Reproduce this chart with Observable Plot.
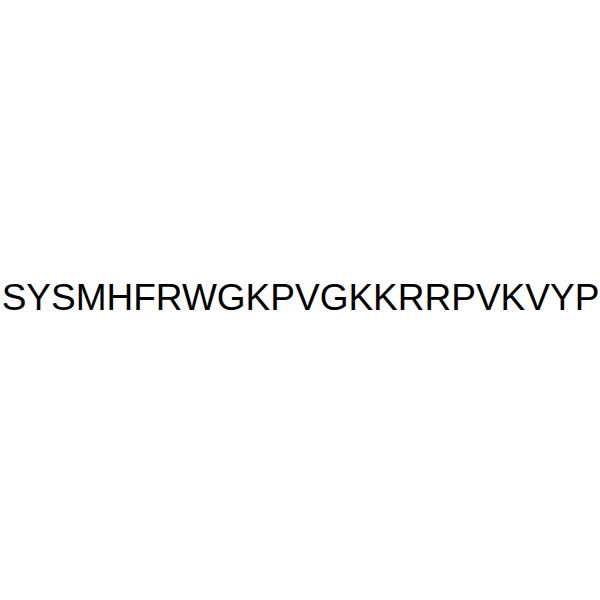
<!DOCTYPE html>
<html>
<head>
<meta charset="utf-8">
<script src="https://cdn.jsdelivr.net/npm/d3@7"></script>
<script src="https://cdn.jsdelivr.net/npm/@observablehq/plot@0.6"></script>
<style>
html, body { margin: 0; padding: 0; background: #fff; }
</style>
</head>
<body>
<div id="chart"></div>
<script>
const labels = ["SYSMHFRWGKPVGKKRRPVKVYP"];
const labelX = [300];
const labelY = [298];

const data = labels.map((t, i) => ({t, x: labelX[i], y: labelY[i]}));

const chart = Plot.plot({
  width: 600,
  height: 600,
  margin: 0,
  x: {domain: [0, 600], axis: null},
  y: {domain: [600, 0], range: [600, 0], axis: null},
  style: {background: "#fff"},
  marks: [
    Plot.text(data, {
      x: "x", y: "y", text: "t",
      fontSize: 37,
      fontFamily: "Liberation Sans, Arial, sans-serif",
      fill: "#000",
      textAnchor: "middle"
    })
  ]
});
document.getElementById("chart").appendChild(chart);
</script>
</body>
</html>
